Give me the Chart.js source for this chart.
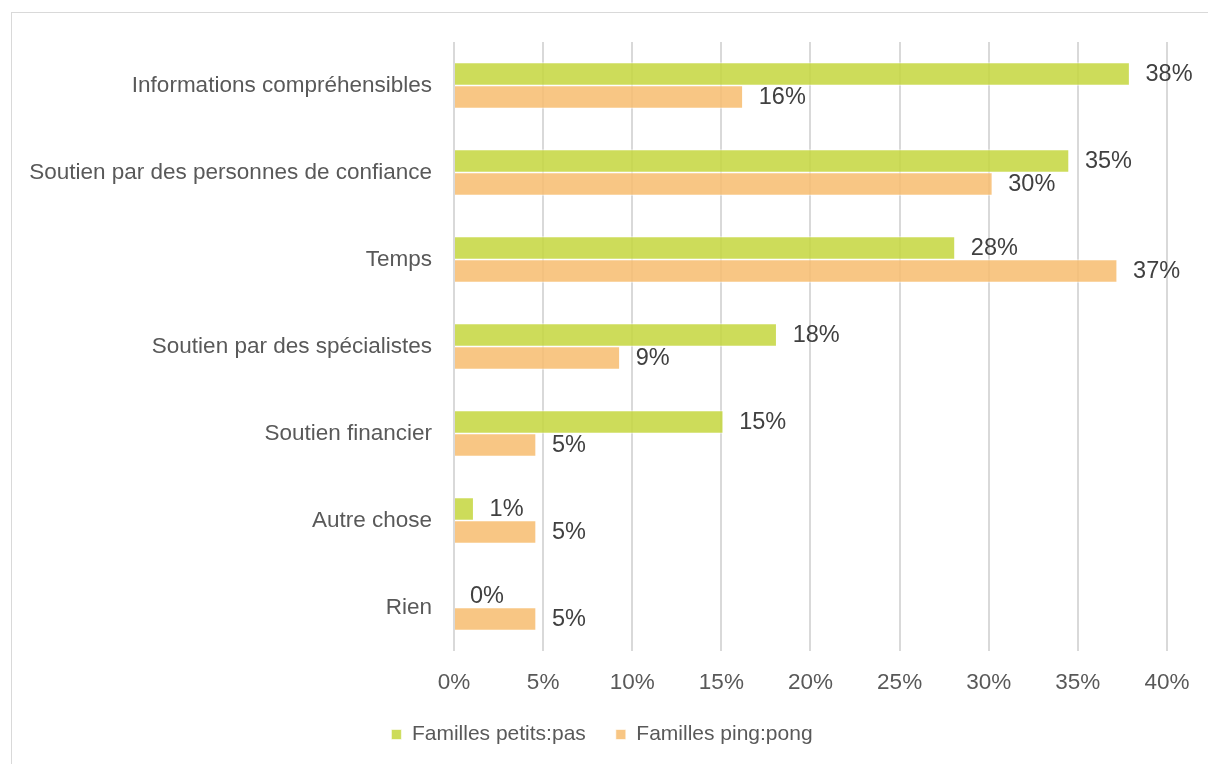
<!DOCTYPE html>
<html lang="fr">
<head>
<meta charset="utf-8">
<title>Besoins des familles</title>
<script src="https://cdn.jsdelivr.net/npm/chart.js@4.4.1/dist/chart.umd.min.js"></script>
<style>
  html, body { margin: 0; padding: 0; background: #fff; overflow: hidden; }
  #frame {
    position: absolute; left: 11px; top: 12px;
    width: 1300px; height: 900px;
    border: 1px solid #d9d9d9;
  }
  #wrap { position: absolute; left: 0; top: 0; width: 1208px; height: 764px; }
</style>
</head>
<body>
<div id="frame"></div>
<div id="wrap"><canvas id="chart" width="1208" height="764"></canvas></div>
<script>
/* ================== DONNÉES ================== */
const categories = [
  "Informations compréhensibles",
  "Soutien par des personnes de confiance",
  "Temps",
  "Soutien par des spécialistes",
  "Soutien financier",
  "Autre chose",
  "Rien"
];
const seriesNames = ["Familles petits:pas", "Familles ping:pong"];
const petitsPas = [37.9, 34.5, 28.1, 18.1, 15.1, 1.1, 0];   // en %
const pingPong  = [16.2, 30.2, 37.2, 9.3, 4.6, 4.6, 4.6];   // en %
const xTicks = [0, 5, 10, 15, 20, 25, 30, 35, 40];

/* ================== STYLE ================== */
const GREEN = "rgba(196,214,61,0.85)";
const ORANGE = "rgba(247,188,111,0.85)";
const FONT = "'Liberation Sans', Arial, sans-serif";

// étiquettes de valeur au bout des barres
const valueLabels = {
  id: "valueLabels",
  afterDatasetsDraw(chart) {
    const ctx = chart.ctx;
    ctx.save();
    ctx.font = "23.5px " + FONT;
    ctx.fillStyle = "#404040";
    ctx.textAlign = "left";
    ctx.textBaseline = "middle";
    chart.data.datasets.forEach((ds, i) => {
      const meta = chart.getDatasetMeta(i);
      meta.data.forEach((bar, j) => {
        ctx.fillText(Math.round(ds.data[j]) + "%", bar.x + 16, bar.y + 1);
      });
    });
    ctx.restore();
  }
};

// les libellés longs débordent à gauche de l'axe : on élargit la zone de clip
const unclipY = {
  id: "unclipY",
  afterLayout(chart) { chart.scales.y.left = 0; }
};

new Chart(document.getElementById("chart"), {
  type: "bar",
  data: {
    labels: categories,
    datasets: [
      { label: seriesNames[0], data: petitsPas, backgroundColor: GREEN },
      { label: seriesNames[1], data: pingPong, backgroundColor: ORANGE }
    ]
  },
  options: {
    indexAxis: "y",
    responsive: false,
    animation: false,
    layout: { padding: { top: 42, right: 41, bottom: 9, left: 37 } },
    datasets: {
      bar: { barThickness: 23, borderWidth: 1, borderColor: "rgba(255,255,255,0.6)" }
    },
    plugins: {
      legend: {
        position: "bottom",
        labels: {
          boxWidth: 10, boxHeight: 10, padding: 30,
          color: "#595959", font: { family: FONT, size: 21 }
        }
      },
      tooltip: { enabled: false }
    },
    scales: {
      x: {
        min: 0, max: 40,
        afterBuildTicks: s => { s.ticks = xTicks.map(v => ({ value: v })); },
        afterFit: s => { s.height = 43; },
        grid: { color: "#d9d9d9", lineWidth: 2, drawTicks: false },
        border: { display: false },
        ticks: {
          padding: 18.5, color: "#595959",
          font: { family: FONT, size: 22.5 },
          callback: v => v + "%"
        }
      },
      y: {
        afterFit: s => { s.width = 417; },
        grid: { display: false, drawTicks: false },
        border: { display: false },
        ticks: { padding: 22, color: "#595959", font: { family: FONT, size: 22.5 } }
      }
    }
  },
  plugins: [valueLabels, unclipY]
});
</script>
</body>
</html>
